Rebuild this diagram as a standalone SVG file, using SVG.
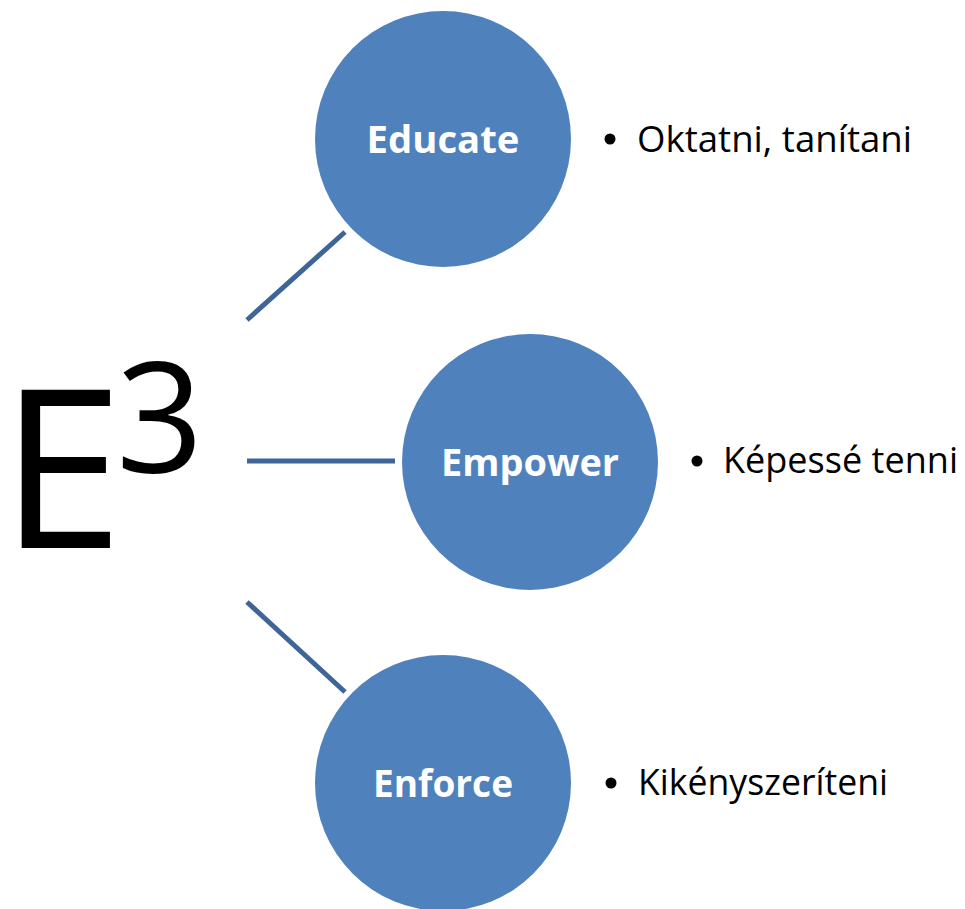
<svg xmlns="http://www.w3.org/2000/svg" width="965" height="909" viewBox="0 0 965 909">
<style>
.node{fill:#4F81BD;}
.lbl{font-family:"Open Sans","Noto Sans",sans-serif;font-weight:bold;font-size:38px;fill:#FFFFFF;text-anchor:middle;}
.bul{font-family:"Open Sans","Noto Sans",sans-serif;font-size:36px;fill:#000000;}
.conn{stroke:#3E6597;stroke-width:5;fill:none;}
.big{font-family:"Open Sans","Noto Sans",sans-serif;fill:#000000;}
</style>
<rect width="965" height="909" fill="#FFFFFF"/>
<g id="title">
<text class="big" x="0" y="548" font-size="222">E</text>
<text class="big" x="116" y="473" font-size="153">3</text>
</g>
<g id="connectors">
<line class="conn" x1="247" y1="320" x2="345" y2="232"/>
<line class="conn" x1="247" y1="461" x2="395" y2="461"/>
<line class="conn" x1="247" y1="602" x2="345" y2="692"/>
</g>
<g id="educate">
<circle class="node" cx="443" cy="139" r="128"/>
<text class="lbl" x="443" y="153" textLength="153" lengthAdjust="spacingAndGlyphs">Educate</text>
</g>
<g id="empower">
<circle class="node" cx="530" cy="462" r="128"/>
<text class="lbl" x="530" y="476" textLength="178" lengthAdjust="spacingAndGlyphs">Empower</text>
</g>
<g id="enforce">
<circle class="node" cx="443" cy="783" r="128"/>
<text class="lbl" x="443" y="797" textLength="140" lengthAdjust="spacingAndGlyphs">Enforce</text>
</g>
<g id="educate-bullet">
<circle cx="610" cy="139" r="5.5" fill="#000"/>
<text class="bul" x="637" y="152" textLength="275" lengthAdjust="spacingAndGlyphs">Oktatni, tanítani</text>
</g>
<g id="empower-bullet">
<circle cx="697" cy="461" r="5.5" fill="#000"/>
<text class="bul" x="723" y="473" textLength="235" lengthAdjust="spacingAndGlyphs">Képessé tenni</text>
</g>
<g id="enforce-bullet">
<circle cx="611" cy="783" r="5.5" fill="#000"/>
<text class="bul" x="638" y="795" textLength="250" lengthAdjust="spacingAndGlyphs">Kikényszeríteni</text>
</g>
</svg>
